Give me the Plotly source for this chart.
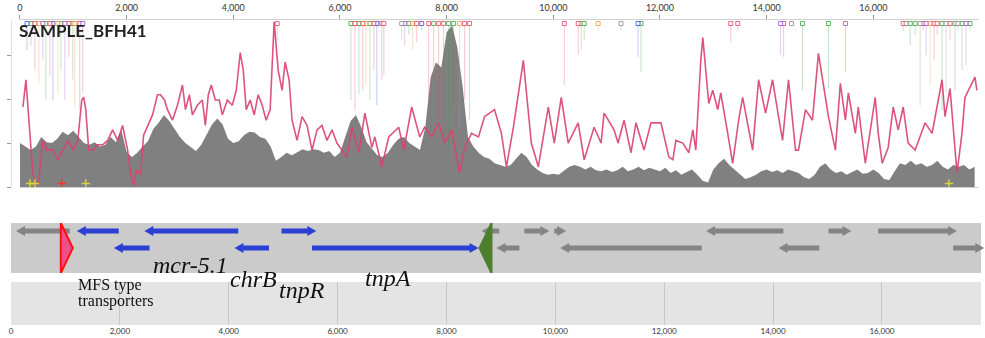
import plotly.graph_objects as go

# ---------------- data ----------------
COV_STEP = 100
coverage = [50, 46, 42, 46, 57, 51, 50, 55, 63, 59, 64, 57, 50, 48, 51, 46, 48, 57, 51, 65,
            40, 34, 39, 46, 52, 66, 73, 82, 75, 66, 57, 50, 46, 41, 48, 59, 71, 78, 71, 55,
            50, 52, 59, 63, 62, 57, 55, 46, 30, 34, 39, 36, 40, 43, 41, 43, 42, 39, 41, 34,
            39, 57, 75, 82, 68, 51, 43, 36, 34, 39, 48, 55, 57, 50, 46, 42, 68, 125, 142, 136,
            176, 184, 159, 114, 57, 46, 39, 34, 32, 27, 25, 23, 25, 32, 39, 34, 25, 20, 16, 14,
            15, 14, 18, 23, 25, 23, 20, 23, 19, 18, 20, 17, 19, 23, 18, 20, 23, 19, 22, 20,
            18, 22, 16, 19, 14, 17, 20, 14, 7, 5, 20, 27, 32, 25, 20, 14, 9, 11, 14, 18,
            20, 17, 19, 16, 20, 18, 16, 11, 9, 14, 23, 27, 20, 16, 18, 14, 17, 20, 15, 16,
            20, 16, 9, 8, 18, 27, 25, 30, 25, 27, 23, 25, 30, 23, 20, 25, 23, 25, 20, 23]
cov_pos = [i * COV_STEP for i in range(len(coverage))]

line_pos = [56, 112, 168, 243, 299, 355, 430, 505, 617, 710, 804, 897, 991, 1084, 1159, 1196,
            1234, 1290, 1364, 1458, 1551, 1645, 1738, 1832, 1925, 2019, 2075, 2131, 2187, 2261,
            2318, 2392, 2486, 2579, 2635, 2710, 2766, 2860, 2953, 3047, 3103, 3177, 3233, 3327,
            3420, 3476, 3532, 3588, 3663, 3738, 3794, 3888, 3981, 4056, 4130, 4187, 4243, 4317,
            4392, 4467, 4542, 4616, 4691, 4766, 4841, 4915, 4972, 5046, 5102, 5196, 5289, 5383,
            5476, 5570, 5663, 5757, 5850, 5943, 6130, 6224, 6355, 6467, 6598, 6654, 6784, 6915,
            7102, 7196, 7345, 7495, 7588, 7719, 7850, 7962, 8093, 8242, 8336, 8467, 8597, 8710,
            8897, 9027, 9121, 9252, 9438, 9588, 9719, 9906, 10018, 10149, 10280, 10466, 10579,
            10765, 10896, 10952, 11139, 11214, 11326, 11457, 11550, 11700, 11831, 12018, 12167,
            12242, 12298, 12429, 12541, 12616, 12672, 12765, 12803, 12915, 12990, 13083, 13139,
            13270, 13363, 13475, 13550, 13737, 13849, 13980, 14111, 14223, 14298, 14410, 14541,
            14597, 14728, 14859, 14971, 15102, 15158, 15289, 15382, 15476, 15532, 15663, 15718,
            15849, 16036, 16092, 16167, 16279, 16373, 16466, 16560, 16653, 16784, 16971, 17102,
            17288, 17344, 17438, 17531, 17569, 17662, 17718, 17905, 17942]
line_val = [91, 122, 76, 14, 2, 8, 53, 42, 42, 31, 42, 53, 42, 53, 99, 102,
            88, 42, 42, 48, 48, 53, 65, 53, 70, 42, 14, 2, 19, 14,
            59, 70, 82, 105, 105, 99, 88, 76, 93, 116, 88, 105, 82, 93,
            99, 70, 105, 116, 99, 99, 82, 99, 93, 110, 153, 133, 88, 99,
            82, 105, 93, 76, 88, 188, 133, 110, 142, 122, 76, 53, 80, 70,
            42, 65, 70, 53, 65, 50, 34, 68, 39, 84, 45, 57, 23, 57,
            68, 42, 91, 57, 68, 57, 73, 50, 65, 16, 45, 61, 57, 80,
            88, 61, 23, 68, 144, 50, 23, 91, 50, 102, 50, 73, 31,
            68, 50, 84, 65, 50, 76, 39, 73, 42, 73, 73, 34,
            31, 53, 50, 39, 65, 42, 144, 170, 95, 110, 88, 107,
            61, 27, 76, 102, 42, 122, 84, 122, 80, 53, 122, 42,
            42, 88, 76, 152, 102, 80, 42, 118, 76, 107, 61, 91,
            27, 102, 61, 27, 45, 91, 65, 91, 50, 42, 73, 61,
            122, 80, 112, 42, 16, 61, 102, 125, 110]

var_pos = [131, 206, 280, 355, 430, 486, 561, 617, 710, 766, 841, 916, 991, 1028, 1121, 1177,
           4822,
           6205, 6280, 6355, 6429, 6485, 6560, 6635, 6691, 6784, 6822,
           7158, 7214, 7289, 7364, 7438, 7532,
           7663, 7756, 7850, 7943, 8037, 8130, 8242, 8336, 8429,
           10205, 10466, 10522, 10579, 10840, 11270, 11588, 11644,
           13326, 13457, 14261, 14317, 14466, 14672, 15158, 15476,
           16559, 16615, 16690, 16784, 16877, 16933, 16989, 17064, 17139, 17195, 17288, 17363,
           17438, 17531, 17587, 17662, 17737, 17812]
var_end = [156, 161, 133, 118, 144, 99, 127, 99, 107, 133, 99, 148, 122, 91, 87, 107,
           167,
           99, 87, 105, 110, 116, 99, 133, 93, 122, 127,
           167, 161, 173, 156, 165, 178,
           99, 122, 76, 53, 42, 87, 65, 99, 76,
           116, 150, 156, 167, 178, 178, 148, 131,
           165, 178, 150, 148, 184, 110, 112, 131,
           178, 181, 161, 173, 93, 178, 150, 116, 144, 173, 87, 108,
           167, 110, 178, 133, 139, 178]
var_base = ['C', 'A', 'T', 'G', 'N', 'A', 'T', 'C', 'G', 'A', 'N', 'T', 'A', 'G', 'T', 'N',
            'T',
            'A', 'T', 'A', 'T', 'G', 'A', 'T', 'C', 'T', 'T',
            'X', 'N', 'A', 'G', 'T', 'C',
            'T', 'A', 'T', 'T', 'A', 'A', 'G', 'T', 'T',
            'T', 'T', 'A', 'A', 'G', 'X', 'C', 'A',
            'T', 'T', 'N', 'T', 'X', 'A', 'A', 'N',
            'T', 'X', 'A', 'A', 'X', 'T', 'N', 'G', 'T', 'T', 'A', 'X',
            'T', 'A', 'X', 'A', 'N', 'A']
BASE_COLORS = {'A': '#3aa23a', 'C': '#2f4ee0', 'G': '#f09a2a', 'T': '#e8405a',
               'N': '#9b50d8', 'X': '#8a8a8a'}

snp_pos = [187, 280, 785, 1233, 17419]
snp_color = ['#d8d23a', '#d8d23a', '#ff3030', '#d8d23a', '#d8d23a']

gene_start = [92, 1210, 2450, 4970, 8645, 9430, 9980, 12770, 15020, 15930,
              1890, 4105, 5530, 8920, 10090, 14100, 17310]
gene_end = [1080, 1980, 4175, 5610, 8970, 9890, 10200, 14190, 15440, 17380,
            2545, 4740, 8590, 9340, 12690, 14850, 17880]
gene_strand = [-1, -1, -1, 1, -1, 1, 1, -1, 1, 1,
               -1, -1, 1, -1, -1, -1, 1]
gene_row = [1, 1, 1, 1, 1, 1, 1, 1, 1, 1,
            2, 2, 2, 2, 2, 2, 2]
gene_kind = ['other', 'arg', 'arg', 'arg', 'other', 'other', 'other', 'other', 'other', 'other',
             'arg', 'arg', 'arg', 'other', 'other', 'other', 'other']

feat_start = [916, 8608]
feat_end = [1136, 8828]
feat_strand = [1, -1]
feat_fill = ['#ee4f86', '#4e7f2f']
feat_line = ['#ff1010', '#4e7f2f']

top_ticks = [0, 2000, 4000, 6000, 8000, 10000, 12000, 14000, 16000]
bottom_ticks = [0, 2000, 4000, 6000, 8000, 10000, 12000, 14000, 16000]

# ---------------- layout helpers ----------------
W, H = 985, 338
def px(x):
    return x / W
def py(y):
    return 1 - y / H

fig = go.Figure()

# coverage
fig.add_trace(go.Scatter(x=cov_pos, y=coverage, mode='lines', fill='tozeroy',
                         line=dict(width=0, color='rgb(128,128,128)'),
                         fillcolor='rgb(128,128,128)', xaxis='x', yaxis='y',
                         hoverinfo='skip', showlegend=False))

# variant lines and markers
VAR_TOP = 186
for b, col in BASE_COLORS.items():
    xs, ys, mx = [], [], []
    for p, e, bb in zip(var_pos, var_end, var_base):
        if bb == b:
            xs += [p, p, None]
            ys += [VAR_TOP, e, None]
            mx.append(p)
    if not mx:
        continue
    fig.add_trace(go.Scatter(x=xs, y=ys, mode='lines', line=dict(width=1, color=col),
                             opacity=0.3, xaxis='x', yaxis='y', hoverinfo='skip',
                             showlegend=False))
    fig.add_trace(go.Scatter(x=mx, y=[VAR_TOP] * len(mx), mode='markers',
                             marker=dict(symbol='square', size=4, color='white',
                                         line=dict(width=1, color=col)),
                             opacity=0.8, xaxis='x', yaxis='y', hoverinfo='skip',
                             showlegend=False, cliponaxis=False))

# GC-like line
fig.add_trace(go.Scatter(x=line_pos, y=line_val, mode='lines',
                         line=dict(width=1.6, color='#d9426f'), opacity=0.9,
                         xaxis='x', yaxis='y', hoverinfo='skip', showlegend=False))

# low-coverage snp crosses
fig.add_trace(go.Scatter(x=snp_pos, y=[4] * len(snp_pos), mode='markers',
                         marker=dict(symbol='cross-thin', size=6, color=snp_color,
                                     line=dict(width=1.5, color=snp_color)),
                         xaxis='x', yaxis='y', hoverinfo='skip', showlegend=False,
                         cliponaxis=False))

# genes as arrows
HEAD_BP = 165
SHAFT = 0.147
HEAD = 0.294
for kind, col in [('other', '#848484'), ('arg', '#2b40d2')]:
    xs, ys = [], []
    for s, e, st, r, k in zip(gene_start, gene_end, gene_strand, gene_row, gene_kind):
        if k != kind:
            continue
        yc = -r
        L = min(HEAD_BP, e - s)
        if st > 0:
            base = e - L
            xs += [s, base, base, e, base, base, s, s, None]
        else:
            base = s + L
            xs += [e, base, base, s, base, base, e, e, None]
        ys += [yc + SHAFT, yc + SHAFT, yc + HEAD, yc, yc - HEAD, yc - SHAFT,
               yc - SHAFT, yc + SHAFT, None]
    fig.add_trace(go.Scatter(x=xs, y=ys, mode='lines', fill='toself', fillcolor=col,
                             line=dict(width=0, color=col), xaxis='x3', yaxis='y3',
                             hoverinfo='skip', showlegend=False))

# repeat features (triangles)
Y3_LO, Y3_HI = -3.47, -0.53
for s, e, st, fc, lc in zip(feat_start, feat_end, feat_strand, feat_fill, feat_line):
    mid = (Y3_LO + Y3_HI) / 2
    if st > 0:
        xs = [s, s, e, s]
    else:
        xs = [e, e, s, e]
    ys = [Y3_HI, Y3_LO, mid, Y3_HI]
    fig.add_trace(go.Scatter(x=xs, y=ys, mode='lines', fill='toself', fillcolor=fc,
                             line=dict(width=2, color=lc), xaxis='x3', yaxis='y3',
                             hoverinfo='skip', showlegend=False))

shapes = [
    dict(type='rect', xref='paper', yref='paper', x0=px(8), x1=px(981), y0=py(273), y1=py(223),
         fillcolor='#cbcbcb', line=dict(width=0), layer='below'),
    dict(type='rect', xref='paper', yref='paper', x0=px(8), x1=px(981), y0=py(325), y1=py(282),
         fillcolor='#e4e4e4', line=dict(width=0), layer='below'),
]

ital = dict(family='Liberation Serif', size=24, color='#111')
def ann(text, x, y, font, xanchor='center'):
    return dict(text=text, x=px(x), y=py(y), xref='paper', yref='paper',
                xanchor=xanchor, yanchor='middle', showarrow=False, font=font)

annotations = [
    ann('SAMPLE_BFH41', 14, 30, dict(family='Lato', size=17, color='#222', weight='bold'),
        xanchor='left'),
    ann('<i>mcr-5.1</i>', 188, 265, ital),
    ann('<i>chrB</i>', 251, 279, ital),
    ann('<i>tnpR</i>', 300, 290, ital),
    ann('<i>tnpA</i>', 386, 278, ital),
    ann('MFS type', 73, 285, dict(family='Liberation Serif', size=16, color='#111'),
        xanchor='left'),
    ann('transporters', 73, 301, dict(family='Liberation Serif', size=16, color='#111'),
        xanchor='left'),
]

fig.update_layout(
    width=W, height=H, margin=dict(l=0, r=0, t=0, b=0),
    paper_bgcolor='white', plot_bgcolor='rgba(0,0,0,0)',
    showlegend=False, shapes=shapes, annotations=annotations, hovermode=False,
    xaxis=dict(domain=[px(17), px(978)], range=[0, 17963], side='top', anchor='y',
               tickvals=top_ticks, tickformat=',d', ticks='outside', ticklen=4,
               tickcolor='#999', showline=True, linecolor='#d0d0d0', mirror=True,
               showgrid=False, zeroline=False,
               tickfont=dict(family='Lato', size=9, color='#333')),
    yaxis=dict(domain=[py(187), py(20)], range=[0, 190], anchor='free', position=px(8),
               tickvals=[0, 50, 100, 150], ticks='outside', ticklen=4, tickcolor='#999',
               showticklabels=False, showline=True, linecolor='#e2e2e2',
               showgrid=False, zeroline=False),
    xaxis2=dict(domain=[px(8), 1.0], range=[0, 17894], anchor='y2',
                tickvals=bottom_ticks, tickformat=',d', ticks='', showgrid=True,
                gridcolor='#c8c8c8', gridwidth=1, showline=False, zeroline=False,
                tickfont=dict(family='Lato', size=8, color='#333')),
    yaxis2=dict(domain=[py(325), py(282)], range=[0, 1], visible=False),
    xaxis3=dict(domain=[px(8), 1.0], range=[0, 17894], anchor='y3', visible=False),
    yaxis3=dict(domain=[py(273), py(223)], range=[Y3_LO, Y3_HI], visible=False),
)

# empty trace so the x2/y2 subplot (grid band) is rendered
fig.add_trace(go.Scatter(x=[None], y=[None], xaxis='x2', yaxis='y2', showlegend=False,
                         hoverinfo='skip'))

fig.write_html('out.html', config={'displayModeBar': False, 'staticPlot': True})

# remove the default page margin so the figure sits at the window's top-left corner
with open('out.html', encoding='utf-8') as f:
    html = f.read()
html = html.replace('<body>', '<body style="margin:0;padding:0;overflow:hidden;">', 1)
with open('out.html', 'w', encoding='utf-8') as f:
    f.write(html)
